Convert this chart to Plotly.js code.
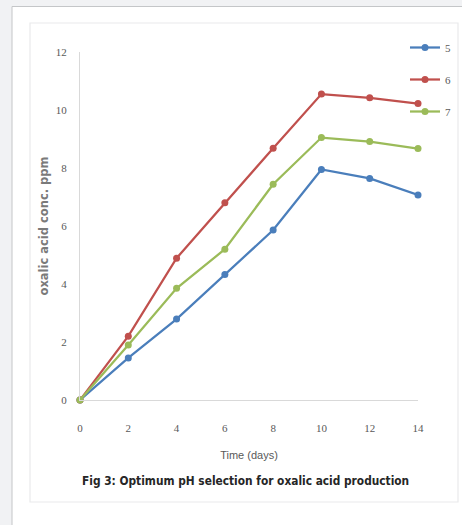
<!DOCTYPE html>
<html><head><meta charset="utf-8">
<script src="https://cdn.plot.ly/plotly-3.0.1.min.js"></script>
<style>html,body{margin:0;padding:0;background:#f1f2f4;}#chart{width:462px;height:525px;}</style>
</head><body><div id="chart"></div>
<script>
const days = [0, 2, 4, 6, 8, 10, 12, 14];
const ph5 = [0, 1.45, 2.79, 4.33, 5.86, 7.95, 7.64, 7.07];
const ph6 = [0, 2.2, 4.89, 6.8, 8.68, 10.55, 10.42, 10.22];
const ph7 = [0, 1.9, 3.85, 5.2, 7.44, 9.05, 8.91, 8.67];
const seriesNames = ['5', '6', '7'];
const xTicks = [0, 2, 4, 6, 8, 10, 12, 14];
const yTicks = [0, 2, 4, 6, 8, 10, 12];

const colors = ['#4a7ebb', '#c0504d', '#9bbb59'];
const vals = [ph5, ph6, ph7];
const traces = vals.map((v, i) => ({
  x: days, y: v, name: seriesNames[i], type: 'scatter', mode: 'lines+markers',
  legendgroup: 'g' + i, cliponaxis: false,
  line: {color: colors[i], width: 2.25},
  marker: {color: colors[i], size: 7, symbol: 'circle'}
}));

const L = 80, R = 418, T = 52, B = 400;
const W = R - L, H = B - T;
const px = p => (p - L) / W;
const py = p => (B - p) / H;

const layout = {
  width: 462, height: 525,
  margin: {l: L, r: 462 - R, t: T, b: 525 - B, autoexpand: false},
  paper_bgcolor: '#f1f2f4', plot_bgcolor: 'rgba(0,0,0,0)',
  showlegend: true,
  legend: {x: px(405), y: py(33), xanchor: 'left', yanchor: 'top', bgcolor: 'rgba(0,0,0,0)',
    traceorder: 'grouped', tracegroupgap: 13, itemwidth: 30,
    font: {family: 'Liberation Serif, serif', size: 11, color: '#595959'}},
  xaxis: {range: [0, 14], tickvals: xTicks, showgrid: false, zeroline: false,
    showline: true, linecolor: '#d9d9d9', linewidth: 1,
    ticks: 'outside', ticklen: 18, tickcolor: 'rgba(0,0,0,0)',
    tickfont: {family: 'Liberation Serif, serif', size: 11, color: '#595959'},
    title: {text: 'Time (days)', standoff: 18, font: {family: 'Liberation Sans, Arial, sans-serif', size: 11, color: '#595959'}}},
  yaxis: {range: [0, 12], tickvals: yTicks, showgrid: false, zeroline: false,
    showline: true, linecolor: '#d9d9d9', linewidth: 1,
    ticks: 'outside', ticklen: 10, tickcolor: 'rgba(0,0,0,0)',
    tickfont: {family: 'Liberation Serif, serif', size: 11, color: '#595959'},
    title: {text: '<b>oxalic acid conc. ppm</b>', standoff: 4, font: {family: 'DejaVu Sans, sans-serif', size: 11.5, color: '#7a7a7a'}}},
  shapes: [
    {type: 'rect', xref: 'paper', yref: 'paper', layer: 'below',
     x0: px(12), x1: px(475), y0: py(540), y1: py(6.5),
     fillcolor: '#ffffff', line: {color: '#c4c6c8', width: 1}},
    {type: 'rect', xref: 'paper', yref: 'paper', layer: 'below',
     x0: px(30), x1: px(458), y0: py(502), y1: py(23),
     fillcolor: '#ffffff', line: {color: '#e9eaeb', width: 1.2}}
  ],
  annotations: [
    {text: '<b>Fig 3: Optimum pH selection for oxalic acid production</b>', xref: 'paper', yref: 'paper',
     x: px(245), y: py(481), xanchor: 'center', yanchor: 'middle', showarrow: false,
     font: {family: 'DejaVu Sans Condensed, Liberation Sans Narrow, sans-serif', size: 11.8, color: '#262626'}}
  ]
};
Plotly.newPlot('chart', traces, layout, {displayModeBar: false, staticPlot: true});
</script></body></html>
